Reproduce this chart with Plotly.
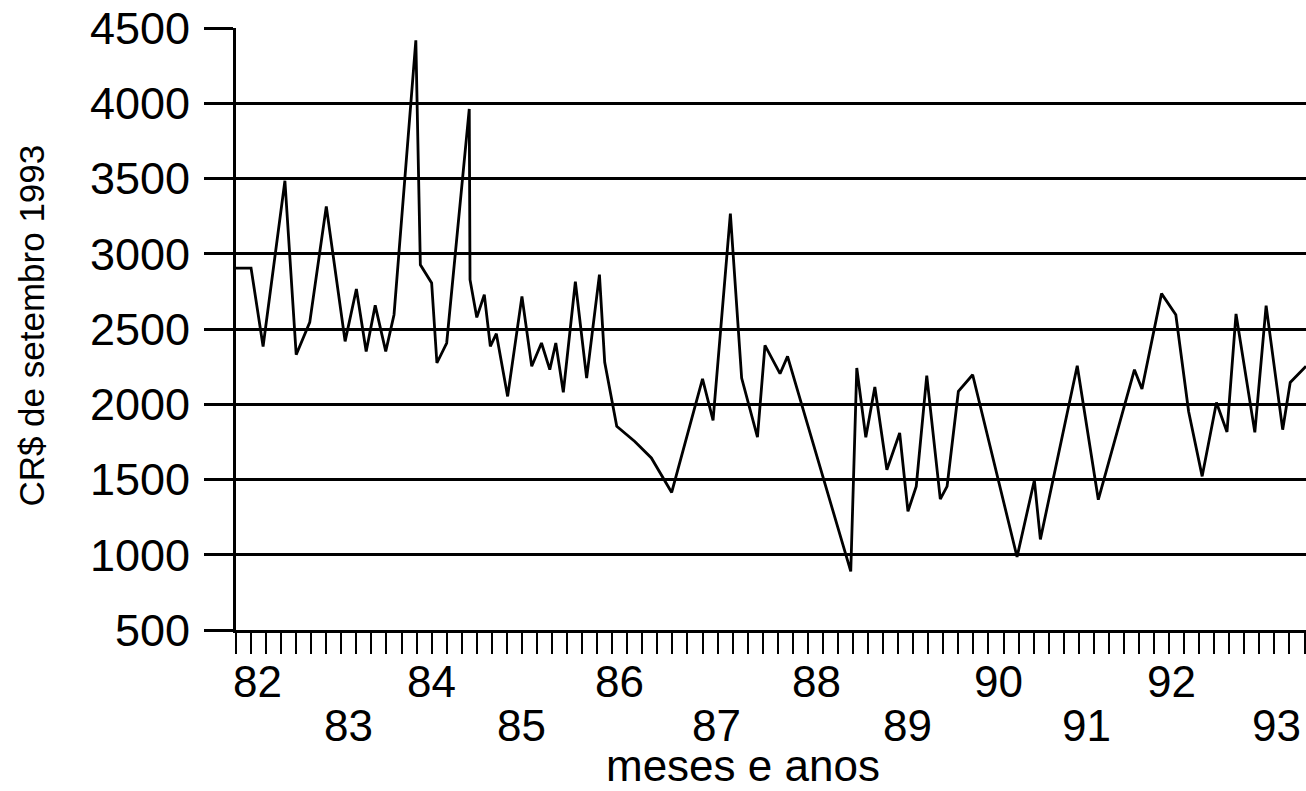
import plotly.graph_objects as go

# months since Jan 1982 (vertex positions) and values in CR$ of Sept 1993
months = [0, 2.0, 3.6, 6.5, 8.0, 9.8, 12.0, 14.5, 16.0, 17.3,
          18.5, 19.9, 21.0, 23.9, 24.5, 26.0, 26.7, 28.0, 31.0, 31.1,
          32.0, 33.0, 33.8, 34.6, 36.1, 38.0, 39.3, 40.6, 41.7, 42.5,
          43.5, 45.1, 46.6, 48.3, 49.0, 50.6, 53.0, 55.2, 57.9, 62.0,
          63.4, 65.7, 67.2, 69.3, 70.3, 72.3, 73.3, 81.7, 82.5, 83.7,
          84.9, 86.5, 88.2, 89.3, 90.4, 91.8, 93.6, 94.5, 96.0, 97.9,
          103.8, 106.1, 106.9, 111.8, 114.6, 119.4, 120.4, 123.0, 124.9, 126.6,
          128.4, 130.3, 131.7, 132.9, 135.4, 136.9, 139.1, 140.1, 142.2]
values = [2905, 2905, 2384, 3485, 2329, 2544, 3315, 2418, 2766, 2351,
          2657, 2351, 2595, 4418, 2927, 2806, 2274, 2407, 3962, 2828,
          2577, 2728, 2384, 2469, 2052, 2717, 2252, 2407, 2230, 2407,
          2079, 2814, 2174, 2861, 2279, 1853, 1753, 1643, 1414, 2168,
          1893, 3266, 2174, 1782, 2391, 2203, 2318, 889, 2241, 1780,
          2115, 1565, 1809, 1288, 1454, 2190, 1370, 1454, 2085, 2196,
          985, 1495, 1102, 2256, 1366, 2230, 2101, 2735, 2595, 1952,
          1521, 2012, 1816, 2600, 1813, 2655, 1831, 2145, 2252]

year_labels_row1 = ["82", "84", "86", "88", "90", "92"]
year_pos_row1 = [2.9, 26.0, 51.0, 77.1, 101.3, 124.3]
year_labels_row2 = ["83", "85", "87", "89", "91", "93"]
year_pos_row2 = [14.9, 38.0, 63.9, 89.2, 113.0, 138.3]

y_ticks = [500, 1000, 1500, 2000, 2500, 3000, 3500, 4000, 4500]

FONT = "Liberation Sans, Arial, Helvetica, sans-serif"

fig = go.Figure()
fig.add_trace(go.Scatter(x=months, y=values, mode="lines",
                         line=dict(color="black", width=2.8),
                         hoverinfo="skip", showlegend=False))

annotations = []
for lab, pos in zip(year_labels_row1, year_pos_row1):
    annotations.append(dict(x=pos, xref="x", y=-0.0855, yref="paper", text=lab,
                            showarrow=False, xanchor="center", yanchor="middle",
                            font=dict(family=FONT, size=44, color="black")))
for lab, pos in zip(year_labels_row2, year_pos_row2):
    annotations.append(dict(x=pos, xref="x", y=-0.158, yref="paper", text=lab,
                            showarrow=False, xanchor="center", yanchor="middle",
                            font=dict(family=FONT, size=44, color="black")))
annotations.append(dict(x=0.474, xref="paper", y=-0.2245, yref="paper", text="meses e anos",
                        showarrow=False, xanchor="center", yanchor="middle",
                        font=dict(family=FONT, size=44, color="black")))
annotations.append(dict(x=-0.191, xref="paper", y=0.505, yref="paper", text="CR$ de setembro 1993",
                        showarrow=False, xanchor="center", yanchor="middle", textangle=-90,
                        font=dict(family=FONT, size=35, color="black")))

fig.update_layout(
    width=1306, height=791,
    margin=dict(l=236, r=0, t=28, b=161),
    paper_bgcolor="white", plot_bgcolor="white",
    font=dict(family=FONT, color="black"),
    annotations=annotations,
    xaxis=dict(range=[0, 142.2], tick0=0, dtick=2, ticks="outside", ticklen=21,
               tickwidth=2.2, tickcolor="black", showticklabels=False,
               showgrid=False, zeroline=False, showline=True, automargin=False,
               linecolor="black", linewidth=2.8),
    yaxis=dict(range=[500, 4500], tickvals=y_ticks, ticks="outside", ticklen=29,
               tickwidth=2.8, tickcolor="black", ticklabelstandoff=5,
               tickfont=dict(family=FONT, size=45, color="black"),
               showgrid=True, gridcolor="black", gridwidth=2.5, automargin=False,
               zeroline=False, showline=True, linecolor="black", linewidth=2.8),
)

fig.write_html("out.html", config={"displayModeBar": False},
               post_script="document.body.style.margin='0';document.body.style.overflow='hidden';")
